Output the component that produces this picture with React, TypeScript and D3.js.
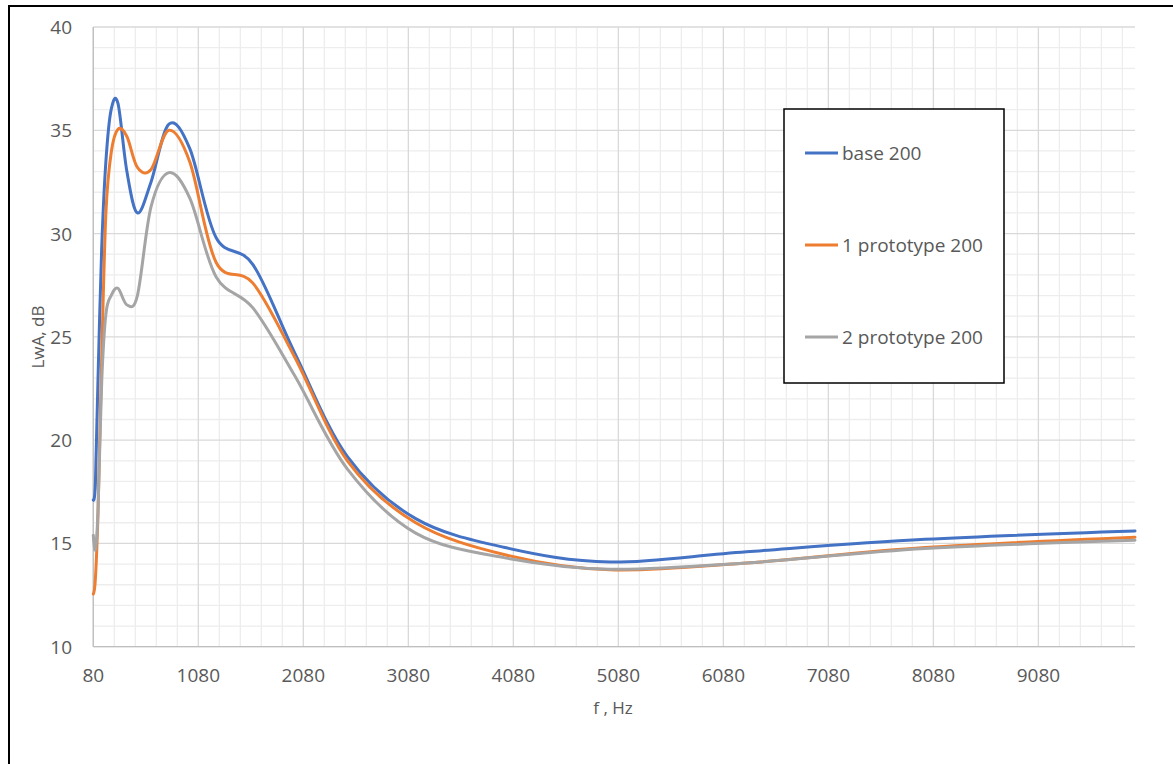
import React from "react";
import * as d3 from "d3";

const freqs = [80, 100, 125, 160, 200, 250, 315, 400, 500, 630, 800, 1000, 1250, 1600, 2000, 2500, 3150, 4000, 5000, 6300, 8000, 10000];
const base200 = [17.1, 17.9, 23.0, 29.3, 33.5, 36.0, 36.3, 33.0, 31.0, 32.5, 35.3, 34.1, 29.8, 28.5, 24.2, 19.2, 16.2, 14.8, 14.1, 14.6, 15.2, 15.6];
const proto1 = [12.55, 13.3, 16.5, 24.0, 31.0, 33.9, 35.05, 34.7, 33.2, 33.1, 35.0, 33.45, 28.6, 27.6, 24.0, 19.0, 16.0, 14.45, 13.72, 14.05, 14.8, 15.3];
const proto2 = [15.4, 14.7, 16.6, 22.8, 26.1, 27.0, 27.35, 26.55, 27.0, 31.3, 32.95, 31.7, 27.9, 26.4, 23.1, 18.6, 15.5, 14.3, 13.75, 14.05, 14.75, 15.15];

const seriesNames = ["base 200", "1 prototype 200", "2 prototype 200"];
const seriesColors = ["#4472C4", "#ED7D31", "#A5A5A5"];
const xTicks = [80, 1080, 2080, 3080, 4080, 5080, 6080, 7080, 8080, 9080];
const yTicks = [10, 15, 20, 25, 30, 35, 40];

const W = 1173;
const H = 764;
const font = "'Segoe UI', 'Open Sans', sans-serif";
const textColor = "#595959";

const App = () => {
  const x = d3.scaleLinear().domain([80, 10000]).range([93.3, 1135]);
  const y = d3.scaleLinear().domain([10, 40]).range([646.7, 27]);

  const minorX = d3.range(80, 10000, 200).filter((v) => (v - 80) % 1000 !== 0);
  const minorY = d3.range(10, 41, 1).filter((v) => v % 5 !== 0);

  const line = d3
    .line<number>()
    .x((_, i) => x(freqs[i]))
    .y((d) => y(d))
    .curve(d3.curveCatmullRom.alpha(0));

  const allSeries = [base200, proto1, proto2];

  return (
    <svg
      width={W}
      height={H}
      style={{ position: "absolute", left: 0, top: 0, background: "#fff" }}
    >
      <rect x={0} y={0} width={W} height={H} fill="#fff" />
      {/* minor grid */}
      <g stroke="#ededed" strokeWidth={1.3}>
        {minorX.map((v) => (
          <line key={"mx" + v} x1={x(v)} x2={x(v)} y1={y(40)} y2={y(10)} />
        ))}
        {minorY.map((v) => (
          <line key={"my" + v} x1={x(80)} x2={x(10000)} y1={y(v)} y2={y(v)} />
        ))}
      </g>
      {/* major grid */}
      <g stroke="#d9d9d9" strokeWidth={1.3}>
        {xTicks.map((v) => (
          <line key={"Mx" + v} x1={x(v)} x2={x(v)} y1={y(40)} y2={y(10)} />
        ))}
        {yTicks.map((v) => (
          <line key={"My" + v} x1={x(80)} x2={x(10000)} y1={y(v)} y2={y(v)} />
        ))}
      </g>
      <line x1={x(80)} x2={x(80)} y1={y(40)} y2={y(10)} stroke="#bfbfbf" strokeWidth={1.3} />
      <line x1={x(80)} x2={x(10000)} y1={y(10)} y2={y(10)} stroke="#bfbfbf" strokeWidth={1.3} />

      {/* tick labels */}
      <g fontFamily={font} fontSize={19} fill={textColor}>
        {yTicks.map((v) => (
          <text key={"yl" + v} x={72} y={y(v)} textAnchor="end" dominantBaseline="central">
            {v}
          </text>
        ))}
        {xTicks.map((v) => (
          <text key={"xl" + v} x={x(v)} y={682} textAnchor="middle">
            {v}
          </text>
        ))}
      </g>
      <text x={613} y={714} textAnchor="middle" fontFamily={font} fontSize={17} fill={textColor}>
        f , Hz
      </text>
      <text
        transform="translate(44,337) rotate(-90)"
        textAnchor="middle"
        fontFamily={font}
        fontSize={17}
        fill={textColor}
      >
        LwA, dB
      </text>

      {/* series */}
      {allSeries.map((s, i) => (
        <path
          key={"s" + i}
          d={line(s) || ""}
          fill="none"
          stroke={seriesColors[i]}
          strokeWidth={3}
          strokeLinejoin="round"
          strokeLinecap="round"
        />
      ))}

      {/* legend */}
      <rect x={784} y={109} width={220} height={274} fill="#fff" stroke="#000" strokeWidth={1.5} />
      {seriesNames.map((name, i) => (
        <g key={name}>
          <line x1={805} x2={838} y1={153 + i * 92} y2={153 + i * 92} stroke={seriesColors[i]} strokeWidth={3} />
          <text
            x={842}
            y={153 + i * 92}
            dominantBaseline="central"
            fontFamily={font}
            fontSize={19}
            fill={textColor}
          >
            {name}
          </text>
        </g>
      ))}

      {/* outer chart border */}
      <rect x={9} y={6} width={W + 20} height={H + 20} fill="none" stroke="#000" strokeWidth={2} />
    </svg>
  );
};

export default App;
